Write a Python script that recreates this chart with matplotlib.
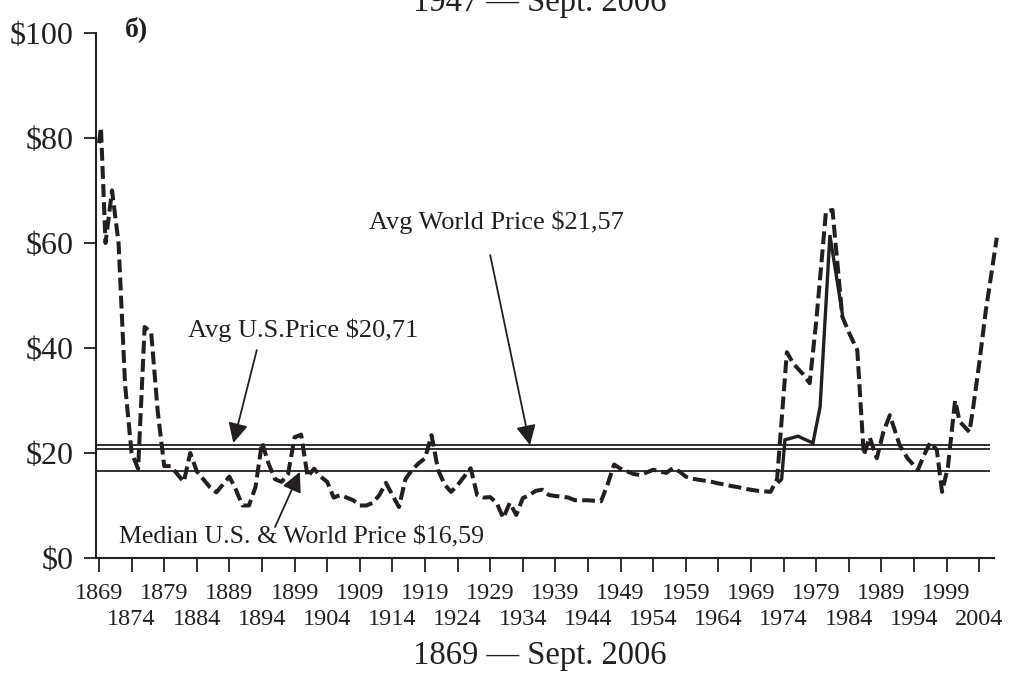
import numpy as np
import matplotlib
matplotlib.use("Agg")
import matplotlib.pyplot as plt

plt.rcParams['font.family'] = ['Liberation Serif', 'DejaVu Serif']

ink = '#231f20'

# world price (dashed), inflation adjusted $ per barrel
world_years = [1869, 1869.3, 1870, 1871, 1872, 1873, 1874, 1875, 1876, 1877, 1878,
               1879, 1880, 1881, 1882, 1883, 1884, 1885, 1886, 1887, 1888, 1889,
               1890, 1891, 1892, 1893, 1894, 1895, 1896, 1897, 1898, 1899, 1900,
               1901, 1902, 1903, 1904, 1905, 1906, 1907, 1908, 1909, 1910, 1911,
               1912, 1913, 1914, 1915, 1916, 1917, 1918, 1919, 1920, 1921, 1922,
               1923, 1924, 1925, 1926, 1927, 1928, 1929, 1930, 1931, 1932, 1933,
               1934, 1935, 1936, 1937, 1938, 1939, 1940, 1941, 1942, 1943, 1944,
               1945, 1946, 1947, 1948, 1949, 1950, 1951, 1952, 1953, 1954, 1955,
               1956, 1957, 1958, 1959, 1960, 1961, 1962, 1963, 1964, 1965, 1966,
               1967, 1968, 1969, 1970, 1971, 1972, 1973, 1974.5, 1975.5, 1977,
               1978, 1979, 1980.5, 1981.5, 1983, 1984, 1985.3, 1986.3, 1987.2,
               1988.3, 1989.3, 1990.3, 1991.8, 1993, 1994.6, 1995.5, 1996.5,
               1997.5, 1998.3, 1999.2, 2000.3, 2001, 2002.5, 2003, 2004, 2005,
               2006.7]
world_price = [79, 82, 60, 70, 60, 33, 20, 17, 44, 43, 28,
               17.5, 17.5, 16, 14.5, 20, 16.5, 15, 13.5, 12.5, 14, 15.5,
               13, 10, 10, 13.5, 22, 18, 15, 14.5, 16, 23, 23.5,
               15.5, 17, 15.5, 14.5, 11.5, 12, 11.5, 11, 10, 10, 10.5,
               12, 14.3, 12, 9.7, 15, 16.8, 18, 19, 23.4, 16.8, 14,
               12.6, 13.9, 15.5, 17.1, 12, 11.5, 11.6, 10.5, 7.6, 10.5, 8.2,
               11.4, 12, 12.8, 13, 12, 11.8, 11.7, 11.5, 11, 11, 11,
               10.9, 10.8, 14, 17.8, 17, 16.5, 16, 15.8, 16.3, 16.8, 16.5,
               16.2, 17.1, 16.5, 15.5, 15.1, 14.9, 14.7, 14.5, 14.2, 14, 13.7,
               13.5, 13.2, 13, 12.8, 12.7, 12.6, 15, 39.2, 37, 35,
               33.3, 45, 66, 66.3, 46, 43, 39.6, 19.6, 23,
               19, 24, 27.2, 21.5, 19, 16.8, 19.5, 22,
               20.6, 12.6, 17.3, 30, 26, 24, 28, 37, 47,
               61]

# U.S. price (solid)
us_years = [1973.3, 1973.7, 1974.2, 1976.2, 1978.5, 1979.6, 1981.1, 1983]
us_price = [14.5, 15, 22.5, 23.2, 21.9, 28.8, 61.5, 46.6]

avg_world = 21.57
avg_us = 20.71
median_price = 16.59

row1_years = list(range(1869, 2005, 10))
row2_years = list(range(1874, 2005, 10))

fig = plt.figure(figsize=(10.16, 6.78), dpi=100)
ax = fig.add_axes([96 / 1016, 120 / 678, 898 / 1016, 525 / 678])

# reference lines
for v in [avg_world, avg_us, median_price]:
    ax.hlines(v, 1868.5, 2005.7, color=ink, lw=1.3)

ax.plot(world_years, world_price, color=ink, lw=2.9, ls=(0, (3.2, 1.3)),
        clip_on=False, solid_capstyle='butt')
ax.plot(us_years, us_price, color=ink, lw=2.4, solid_joinstyle='miter')

ax.set_xlim(1868.54, 2006.27)
ax.set_ylim(0, 100)
ax.set_yticks([0, 20, 40, 60, 80, 100])
ax.set_yticklabels(['$0', '$20', '$40', '$60', '$80', '$100'])
ax.set_xticks(row1_years)
ax.set_xticklabels([str(y) for y in row1_years])
ax.set_xticks(row2_years, minor=True)
ax.set_xticklabels([str(y) for y in row2_years], minor=True)

for s in ['top', 'right']:
    ax.spines[s].set_visible(False)
for s in ['left', 'bottom']:
    ax.spines[s].set_color(ink)
    ax.spines[s].set_linewidth(1.5)
ax.tick_params(axis='y', direction='out', length=9, width=1.3, colors=ink,
               labelsize=23, pad=7)
ax.tick_params(axis='x', which='major', direction='out', length=10, width=1.3,
               colors=ink, labelsize=17.5, pad=8)
ax.tick_params(axis='x', which='minor', direction='out', length=10, width=1.3,
               colors=ink, labelsize=17.5, pad=27)

# annotations
arrow = dict(arrowstyle='-|>', color=ink, lw=1.3, mutation_scale=30,
             shrinkA=0, shrinkB=0)
ax.annotate('', xy=(1935.1, 21.5), xytext=(1929.0, 57.7), arrowprops=arrow)
ax.annotate('', xy=(1889.6, 21.9), xytext=(1893.2, 39.6), arrowprops=arrow)
ax.annotate('', xy=(1899.8, 16.4), xytext=(1896.0, 5.9), arrowprops=arrow)

ax.text(1929.9, 64.0, 'Avg World Price $21,57', ha='center', va='center',
        fontsize=19, color=ink)
ax.text(1900.3, 43.4, 'Avg U.S.Price $20,71', ha='center', va='center',
        fontsize=19, color=ink)
ax.text(1900.1, 4.0, 'Median U.S. & World Price $16,59', ha='center', va='center',
        fontsize=18.6, color=ink)

fig.text(137 / 1016, 1 - 29 / 678, 'б)', ha='center', va='center',
         fontsize=20, fontweight='bold', color=ink)
fig.text(540 / 1016, 1 - 11 / 678, '1947 — Sept. 2006', ha='center',
         va='baseline', fontsize=23.5, color=ink)
fig.text(540 / 1016, 1 - 656 / 678, '1869 — Sept. 2006', ha='center',
         va='center', fontsize=23.5, color=ink)

fig.savefig('out.png', dpi=100)
